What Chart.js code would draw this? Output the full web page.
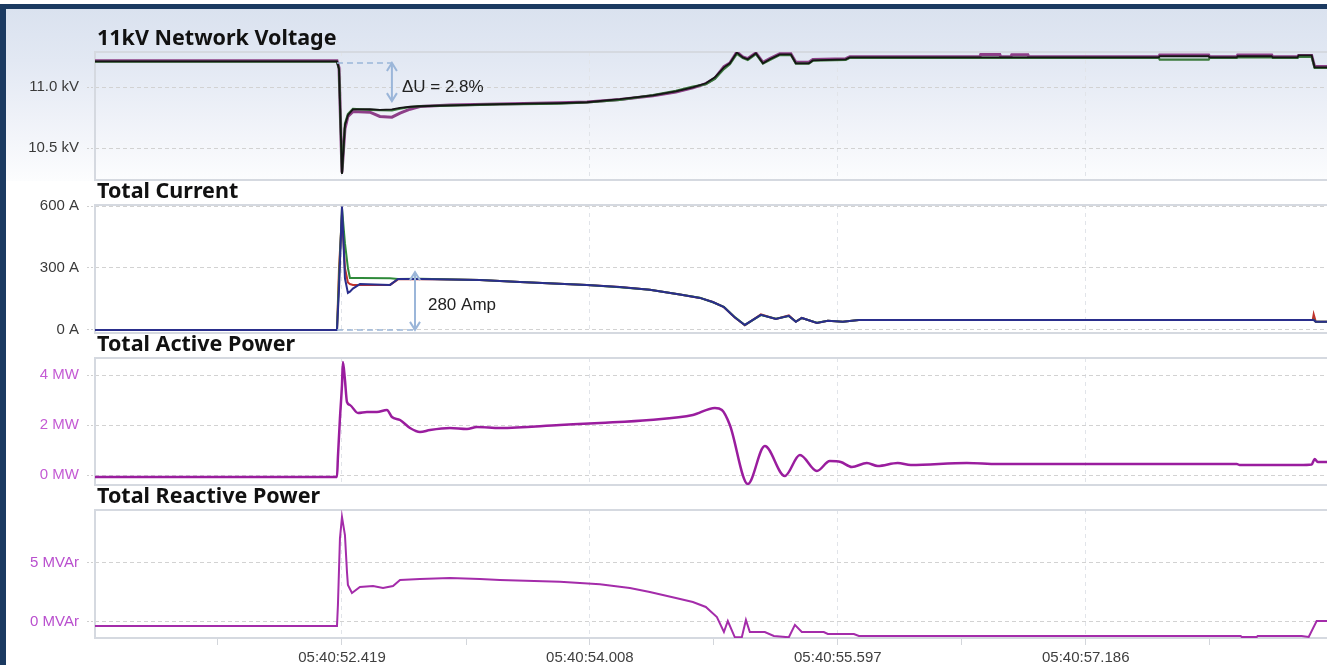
<!DOCTYPE html>
<html>
<head>
<meta charset="utf-8">
<script src="https://cdn.jsdelivr.net/npm/chart.js@4.4.1/dist/chart.umd.min.js"></script>
<style>
  html, body { margin: 0; padding: 0; background: #fff; overflow: hidden; width: 1327px; height: 665px; }
  #frame { position: relative; width: 1327px; height: 665px; overflow: hidden; }
  #topbar { position: absolute; left: 0; top: 4px; width: 1327px; height: 5px; background: #1b3a61; }
  #leftbar { position: absolute; left: 0; top: 4px; width: 6px; height: 661px; background: #1b3a61; }
  #voltBg { position: absolute; left: 6px; top: 9px; width: 1321px; height: 172px;
            background: linear-gradient(#dae2ef 0%, #e2e8f3 30%, #f3f5fa 75%, #fcfdfe 100%); }
  canvas { position: absolute; left: 0; }
</style>
</head>
<body>
<div id="frame">
  <div id="voltBg"></div>
  <canvas id="cV" width="1340" height="172" style="top:9px"></canvas>
  <canvas id="cI" width="1340" height="153" style="top:181px"></canvas>
  <canvas id="cP" width="1340" height="152" style="top:334px"></canvas>
  <canvas id="cQ" width="1340" height="179" style="top:486px"></canvas>
  <div id="topbar"></div>
  <div id="leftbar"></div>
</div>
<script>
// ---- time axis (seconds after 05:40:00) ----
const timePrefix = '05:40:';
const tickTimes = [51.624, 52.419, 53.214, 54.008, 54.803, 55.597, 56.392, 57.186, 57.981];
const labelledTimes = [52.419, 54.008, 55.597, 57.186];

// ---- 11 kV network voltage (kV), three phases ----
const voltTime = [50.836, 51.300, 52.387, 52.400, 52.419, 52.438, 52.457, 52.489, 52.598, 52.662,
  52.739, 52.791, 52.855, 52.919, 53.111, 53.431, 53.816, 53.989, 54.200, 54.412,
  54.559, 54.668, 54.751, 54.809, 54.867, 54.905, 54.950, 54.988, 55.020, 55.072,
  55.117, 55.161, 55.225, 55.296, 55.328, 55.411, 55.437, 55.648, 55.674, 56.507,
  56.513, 56.635, 56.641, 56.706, 56.712, 56.815, 56.821, 57.654, 57.660, 57.974,
  57.980, 58.154, 58.160, 58.378, 58.384, 58.544, 58.550, 58.634, 58.653, 58.790];
const voltA = [11.218, 11.218, 11.218, 11.160, 10.300, 10.660, 10.760, 10.800, 10.795, 10.760,
  10.754, 10.787, 10.820, 10.842, 10.855, 10.862, 10.873, 10.880, 10.900, 10.930,
  10.962, 10.995, 11.030, 11.075, 11.170, 11.200, 11.290, 11.250, 11.236, 11.283,
  11.205, 11.235, 11.275, 11.275, 11.205, 11.205, 11.228, 11.235, 11.250, 11.250,
  11.270, 11.270, 11.250, 11.250, 11.268, 11.268, 11.250, 11.250, 11.265, 11.265,
  11.250, 11.250, 11.266, 11.266, 11.250, 11.250, 11.262, 11.262, 11.170, 11.170];
const voltB = [11.210, 11.210, 11.210, 11.150, 10.295, 10.700, 10.780, 10.822, 10.815, 10.812,
  10.810, 10.825, 10.838, 10.845, 10.850, 10.860, 10.866, 10.875, 10.897, 10.936,
  10.970, 11.005, 11.025, 11.070, 11.150, 11.190, 11.275, 11.240, 11.225, 11.272,
  11.195, 11.225, 11.265, 11.265, 11.195, 11.195, 11.218, 11.226, 11.242, 11.242,
  11.242, 11.242, 11.242, 11.242, 11.242, 11.242, 11.242, 11.242, 11.228, 11.228,
  11.242, 11.242, 11.245, 11.245, 11.242, 11.242, 11.250, 11.250, 11.160, 11.160];
const voltC = [11.213, 11.213, 11.213, 11.150, 10.287, 10.689, 10.770, 10.818, 10.820, 10.815,
  10.818, 10.830, 10.840, 10.844, 10.852, 10.861, 10.869, 10.877, 10.902, 10.934,
  10.967, 11.000, 11.033, 11.082, 11.164, 11.197, 11.285, 11.246, 11.230, 11.279,
  11.197, 11.230, 11.270, 11.270, 11.197, 11.197, 11.221, 11.230, 11.246, 11.246,
  11.246, 11.246, 11.246, 11.246, 11.246, 11.246, 11.246, 11.246, 11.255, 11.255,
  11.246, 11.246, 11.255, 11.255, 11.246, 11.246, 11.262, 11.262, 11.164, 11.164];
const voltTicks = [10.5, 11.0];
const voltBefore = 11.20;   // kV before the switching event
const voltDropPct = 2.8;    // %

// ---- total current (A), three phases ----
const currTime = [50.836, 52.387, 52.400, 52.419, 52.438, 52.457, 52.470, 52.489, 52.534, 52.727,
  52.778, 52.919, 53.303, 53.560, 53.989, 54.200, 54.392, 54.585, 54.713, 54.796,
  54.867, 54.937, 55.001, 55.104, 55.200, 55.283, 55.328, 55.366, 55.463, 55.533,
  55.629, 55.732, 58.641, 58.647, 58.660, 58.790];
const currRed = [0, 0, 300, 560, 300, 230, 222, 218, 218, 218,
  245, 247, 242, 232, 218, 208, 194, 172, 155, 135,
  110, 60, 22, 75, 53, 70, 40, 58, 34, 44,
  39, 48, 48, 75, 40, 40];
const currGreen = [0, 0, 250, 590, 420, 300, 252, 252, 252, 250,
  247, 248, 242, 232, 218, 207, 194, 171, 156, 134,
  112, 62, 24, 72, 54, 67, 40, 57, 35, 44,
  39, 48, 48, 50, 40, 40];
const currBlue = [0, 0, 200, 598, 250, 179, 185, 200, 222, 218,
  247, 247, 242, 232, 218, 208, 194, 172, 155, 135,
  110, 60, 24, 73, 53, 68, 39, 58, 34, 44,
  39, 48, 48, 48, 39, 39];
const currTicks = [0, 300, 600];
const currStep = 280;       // A

// ---- total active power (MW) ----
const activeTime = [50.836, 52.387, 52.393, 52.406, 52.419, 52.425, 52.438, 52.451, 52.470, 52.522,
  52.579, 52.643, 52.707, 52.739, 52.791, 52.855, 52.919, 52.983, 53.111, 53.220,
  53.284, 53.431, 53.816, 54.072, 54.392, 54.668, 54.809, 54.854, 54.905, 55.020,
  55.129, 55.257, 55.354, 55.463, 55.546, 55.616, 55.687, 55.783, 55.853, 55.981,
  56.065, 56.424, 56.622, 58.154, 58.173, 58.557, 58.634, 58.653, 58.673, 58.790];
const activeMW = [-0.08, -0.08, 0.72, 2.28, 3.6, 4.52, 3.8, 2.92, 2.8, 2.48,
  2.52, 2.52, 2.6, 2.32, 2.2, 1.88, 1.72, 1.8, 1.88, 1.84,
  1.92, 1.88, 2.0, 2.08, 2.2, 2.4, 2.68, 2.6, 2.0, -0.36,
  1.16, -0.04, 0.8, 0.16, 0.56, 0.52, 0.32, 0.48, 0.36, 0.48,
  0.4, 0.48, 0.44, 0.44, 0.40, 0.40, 0.42, 0.64, 0.52, 0.52];
const activeTicks = [0, 2, 4];

// ---- total reactive power (MVAr) ----
const reactiveTime = [50.836, 52.387, 52.393, 52.406, 52.419, 52.438, 52.451, 52.457, 52.483, 52.534,
  52.618, 52.682, 52.746, 52.791, 52.919, 53.111, 53.303, 53.431, 53.816, 54.072,
  54.264, 54.392, 54.559, 54.668, 54.751, 54.822, 54.867, 54.892, 54.937, 54.982,
  55.008, 55.033, 55.129, 55.187, 55.283, 55.322, 55.366, 55.507, 55.533, 55.700,
  55.732, 58.179, 58.186, 58.282, 58.288, 58.570, 58.615, 58.666, 58.790];
const reactiveMVAr = [-0.34, -0.34, 1.44, 7.1, 8.9, 7.37, 4.24, 3.14, 2.46, 2.97,
  3.05, 2.88, 3.05, 3.56, 3.64, 3.73, 3.64, 3.56, 3.40, 3.2,
  2.88, 2.54, 2.03, 1.69, 1.27, 0.42, -0.85, 0.08, -1.3, -1.27,
  0.17, -0.85, -0.85, -1.19, -1.3, -0.25, -0.85, -0.85, -1.02, -1.02,
  -1.19, -1.19, -1.27, -1.27, -1.19, -1.19, -1.27, 0.08, 0.08];
const reactiveTicks = [0, 5];

// ---------------------------------------------------------------
Chart.defaults.font.family = '"Liberation Sans", Arial, sans-serif';
Chart.defaults.animation = false;

const toXY = (ts, vs) => ts.map((t, i) => ({ x: t, y: vs[i] }));

// light frame round each plot area
const framePlugin = {
  id: 'panelFrame',
  beforeDatasetsDraw(chart) {
    const { ctx, chartArea: a } = chart;
    ctx.save();
    ctx.strokeStyle = '#d5d9e0';
    ctx.lineWidth = 2;
    ctx.strokeRect(a.left, a.top, a.right - a.left, a.bottom - a.top);
    ctx.restore();
  }
};

// bold panel heading above each plot area
const titlePlugin = {
  id: 'panelTitle',
  afterDraw(chart, args, opts) {
    const { ctx, chartArea: a } = chart;
    ctx.save();
    ctx.font = 'bold 21.5px "Noto Sans", sans-serif';
    ctx.fillStyle = '#111';
    ctx.textBaseline = 'alphabetic';
    ctx.fillText(opts.text, a.left + 2, a.top - 7);
    ctx.restore();
  }
};

// dashed reference level, double-headed arrow and its caption
const guidePlugin = {
  id: 'guide',
  afterDatasetsDraw(chart, args, o) {
    if (!o || o.text === undefined) return;
    const { ctx, scales: { x, y } } = chart;
    const xa = x.getPixelForValue(o.dashFrom);
    const xb = x.getPixelForValue(o.dashTo);
    const xArrow = x.getPixelForValue(o.arrowAt);
    const yBase = y.getPixelForValue(o.base);
    const yTip = y.getPixelForValue(o.tip);
    ctx.save();
    ctx.strokeStyle = '#9bb6d9';
    ctx.lineWidth = 1.5;
    ctx.setLineDash([6, 4]);
    ctx.beginPath(); ctx.moveTo(xa, yBase); ctx.lineTo(xb, yBase); ctx.stroke();
    ctx.setLineDash([]);
    ctx.lineWidth = 2;
    ctx.beginPath(); ctx.moveTo(xArrow, yBase); ctx.lineTo(xArrow, yTip); ctx.stroke();
    const dir = yTip > yBase ? 1 : -1;
    const head = (yEnd, d) => {
      ctx.beginPath();
      ctx.moveTo(xArrow - 5, yEnd + d * 8);
      ctx.lineTo(xArrow, yEnd);
      ctx.lineTo(xArrow + 5, yEnd + d * 8);
      ctx.stroke();
    };
    head(yBase, dir);
    head(yTip, -dir);
    ctx.font = '17px "Liberation Sans", Arial, sans-serif';
    ctx.fillStyle = '#222';
    ctx.textBaseline = 'middle';
    ctx.fillText(o.text, x.getPixelForValue(o.textAt), y.getPixelForValue(o.textLevel));
    ctx.restore();
  }
};

function xScale(showLabels) {
  return {
    type: 'linear',
    min: 50.836,
    max: 58.790,
    afterBuildTicks: s => { s.ticks = tickTimes.map(v => ({ value: v })); },
    afterFit: s => { s.height = showLabels ? 27 : 0; s.paddingLeft = 0; s.paddingRight = 0; },
    grid: {
      color: c => (c.tick && labelledTimes.includes(c.tick.value)) ? '#e1e4e9' : 'rgba(0,0,0,0)',
      lineWidth: 1,
      drawTicks: showLabels,
      tickLength: 7,
      tickColor: '#d3d6db',
      tickWidth: 1
    },
    border: { display: false, dash: [4, 4] },
    ticks: {
      display: showLabels,
      autoSkip: false,
      maxRotation: 0,
      padding: 4,
      color: '#404040',
      font: { size: 15 },
      callback: v => labelledTimes.includes(v) ? timePrefix + v.toFixed(3) : ''
    }
  };
}

function yScale(min, max, ticks, fmt, color) {
  return {
    min, max,
    afterBuildTicks: s => { s.ticks = ticks.map(v => ({ value: v })); },
    afterFit: s => { s.width = 95; s.paddingTop = 0; s.paddingBottom = 0; },
    grid: { color: '#d2d2d2', lineWidth: 1, tickLength: 8, tickColor: '#cfcfcf', tickBorderDash: [2, 2] },
    border: { display: false, dash: [4, 3] },
    ticks: { padding: 8, color, font: { size: 15 }, callback: fmt }
  };
}

function line(data, color, width, smooth) {
  const ds = { data, borderColor: color, borderWidth: width, pointRadius: 0, tension: 0, fill: false };
  if (smooth) ds.cubicInterpolationMode = 'monotone';
  return ds;
}

function panel(id, p) {
  return new Chart(document.getElementById(id), {
    type: 'line',
    data: { datasets: p.datasets },
    options: {
      responsive: false,
      animation: false,
      events: [],
      layout: { padding: { top: p.padTop, bottom: p.padBottom, left: 0, right: 4 } },
      plugins: {
        legend: { display: false },
        tooltip: { enabled: false },
        panelTitle: { text: p.title },
        guide: p.guide || {}
      },
      scales: { x: xScale(p.showX), y: p.y }
    },
    plugins: [framePlugin, titlePlugin, guidePlugin]
  });
}

// first dataset is painted on top, so the dominant phase comes first
panel('cV', {
  title: '11kV Network Voltage',
  padTop: 43, padBottom: 1, showX: false,
  datasets: [
    line(toXY(voltTime, voltC), '#151515', 1.8),
    line(toXY(voltTime, voltB), '#3b7a3d', 2.2),
    line(toXY(voltTime, voltA), '#8d3f88', 3)
  ],
  y: yScale(10.238, 11.29, voltTicks, v => v.toFixed(1) + ' kV', '#3a3a3a'),
  guide: {
    dashFrom: 52.387, dashTo: 52.739, arrowAt: 52.739,
    base: voltBefore, tip: voltBefore * (1 - voltDropPct / 100),
    text: 'ΔU = ' + voltDropPct + '%', textAt: 52.803, textLevel: 11.0
  }
});

panel('cI', {
  title: 'Total Current',
  padTop: 24, padBottom: 1, showX: false,
  datasets: [
    line(toXY(currTime, currBlue), '#2a2e8c', 2),
    line(toXY(currTime, currGreen), '#2f8a3a', 2),
    line(toXY(currTime, currRed), '#c0332c', 2)
  ],
  y: yScale(-15, 605, currTicks, v => v + ' A', '#3a3a3a'),
  guide: {
    dashFrom: 52.387, dashTo: 52.887, arrowAt: 52.887,
    base: 0, tip: currStep,
    text: currStep + ' Amp', textAt: 52.970, textLevel: 120
  }
});

panel('cP', {
  title: 'Total Active Power',
  padTop: 24, padBottom: 1, showX: false,
  datasets: [line(toXY(activeTime, activeMW), '#9a1d9e', 2.5, true)],
  y: yScale(-0.4, 4.68, activeTicks, v => v + ' MW', '#c45ad4')
});

panel('cQ', {
  title: 'Total Reactive Power',
  padTop: 24, padBottom: 0, showX: true,
  datasets: [line(toXY(reactiveTime, reactiveMVAr), '#a42caa', 2)],
  y: yScale(-1.36, 9.49, reactiveTicks, v => v + ' MVAr', '#b94fce')
});
</script>
</body>
</html>
